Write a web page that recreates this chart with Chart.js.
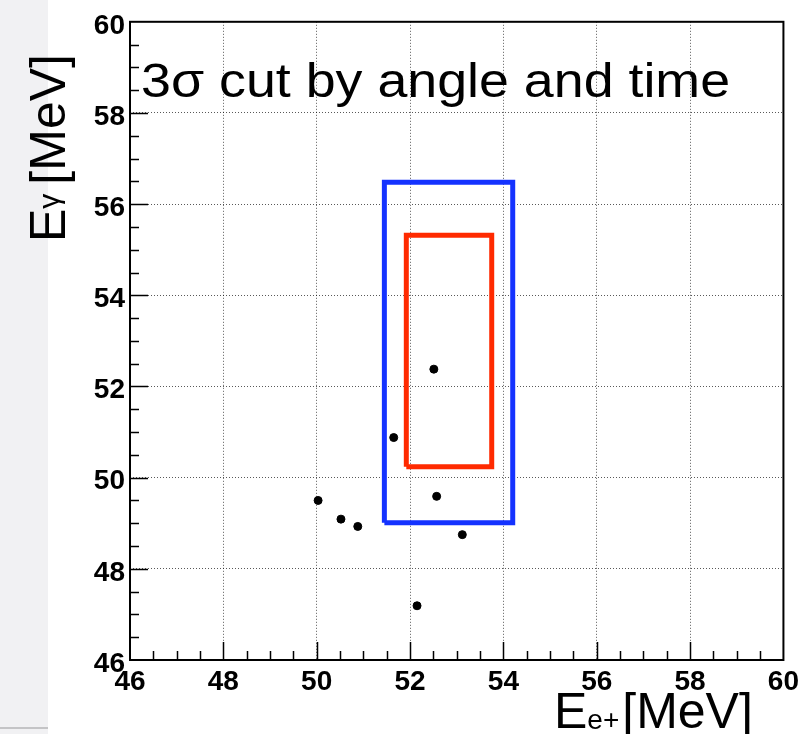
<!DOCTYPE html>
<html>
<head>
<meta charset="utf-8">
<script src="https://cdn.jsdelivr.net/npm/chart.js@4.4.1/dist/chart.umd.min.js"></script>
<style>
  html, body { margin: 0; padding: 0; background: #fff; }
  #wrap { position: relative; width: 804px; height: 734px; }
</style>
</head>
<body>
<div id="wrap"><canvas id="cutChart"></canvas></div>
<script>
// candidate events (E_e+ , E_gamma) in MeV
const eePos   = [52.51, 51.65, 52.57, 50.03, 50.52, 50.88, 53.12, 52.15];
const eGamma  = [52.38, 50.88, 49.59, 49.50, 49.09, 48.93, 48.75, 47.19];

// signal boxes [min, max]
const blueBoxX = [51.45, 54.20];
const blueBoxY = [49.01, 56.48];
const redBoxX  = [51.92, 53.75];
const redBoxY  = [50.24, 55.32];

// axis range and ticks
const axisMin = 46;
const axisMax = 60;
const majorStep = 2;
const minorStep = 0.5;

const titleText = '3σ cut by angle and time';

function boxPath(bx, by) {
  return [
    {x: bx[0], y: by[0]}, {x: bx[1], y: by[0]},
    {x: bx[1], y: by[1]}, {x: bx[0], y: by[1]},
    {x: bx[0], y: by[0]}
  ];
}

const points = eePos.map((x, i) => ({x: x, y: eGamma[i]}));

// light slide strip at the left edge
const backdrop = {
  id: 'backdrop',
  beforeDraw(chart) {
    const ctx = chart.ctx;
    ctx.save();
    ctx.fillStyle = '#f1f1f3';
    ctx.fillRect(0, 0, 48, chart.height);
    ctx.fillStyle = '#c4c4c6';
    ctx.fillRect(0, 727, 48, 2);
    ctx.restore();
  }
};

// ROOT style frame with inward tick marks + axis titles
const frameAndTitles = {
  id: 'frameAndTitles',
  afterDraw(chart) {
    const ctx = chart.ctx;
    const area = chart.chartArea;
    const xs = chart.scales.x;
    const ys = chart.scales.y;
    ctx.save();
    ctx.strokeStyle = '#000';
    ctx.lineWidth = 2;
    ctx.strokeRect(area.left, area.top, area.right - area.left, area.bottom - area.top);

    ctx.lineWidth = 1.5;
    ctx.beginPath();
    for (let v = axisMin + minorStep; v < axisMax; v += minorStep) {
      const len = (Math.abs(v % majorStep) < 1e-6) ? 18 : 9;
      const px = Math.round(xs.getPixelForValue(v)) + 0.5;
      ctx.moveTo(px, area.bottom);
      ctx.lineTo(px, area.bottom - len);
      const py = Math.round(ys.getPixelForValue(v)) + 0.5;
      ctx.moveTo(area.left, py);
      ctx.lineTo(area.left + len, py);
    }
    ctx.stroke();

    ctx.fillStyle = '#000';
    ctx.textBaseline = 'alphabetic';
    ctx.textAlign = 'left';

    // plot title (slightly wide, like the slide)
    ctx.save();
    ctx.translate(141, 97);
    ctx.scale(1.12, 1);
    ctx.font = '48px "Liberation Sans", Arial, sans-serif';
    ctx.fillText(titleText, 0, 0);
    ctx.restore();

    // x axis title  E_e+ [MeV]
    let x = 554;
    ctx.font = '50px "Liberation Sans", Arial, sans-serif';
    ctx.fillText('E', x, 728);
    x += ctx.measureText('E').width;
    ctx.font = '28px "Liberation Sans", Arial, sans-serif';
    ctx.fillText('e+', x, 729);
    x += ctx.measureText('e+').width + 3;
    ctx.font = '50px "Liberation Sans", Arial, sans-serif';
    ctx.fillText('[MeV]', x, 728);

    // y axis title  E_gamma [MeV], rotated
    ctx.translate(65, 242);
    ctx.rotate(-Math.PI / 2);
    let t = 0;
    ctx.font = '50px "Liberation Sans", Arial, sans-serif';
    ctx.fillText('E', t, 0);
    t += ctx.measureText('E').width;
    ctx.font = '30px "Liberation Sans", Arial, sans-serif';
    ctx.fillText('γ', t, -6);
    t += ctx.measureText('γ').width + 9;
    ctx.font = '50px "Liberation Sans", Arial, sans-serif';
    ctx.fillText('[MeV]', t, 0);
    ctx.restore();
  }
};

const tickFont = { family: '"Liberation Sans", Arial, sans-serif', size: 28, weight: 'bold' };

function axisOpts(isX) {
  return {
    type: 'linear',
    min: axisMin,
    max: axisMax,
    ticks: {
      stepSize: majorStep,
      color: '#000',
      font: tickFont,
      padding: isX ? 5 : 5,
      labelOffset: isX ? 0 : 4,
      maxRotation: 0,
      autoSkip: false
    },
    grid: {
      color: 'rgba(0,0,0,0.65)',
      lineWidth: 1,
      drawTicks: false
    },
    border: {
      display: false,
      dash: [1, 2]
    },
    afterFit: function(scale) {
      if (isX) scale.height = 74;
      else scale.width = 130;
    }
  };
}

new Chart(document.getElementById('cutChart'), {
  type: 'scatter',
  data: {
    datasets: [
      {
        label: 'events',
        data: points,
        backgroundColor: '#000',
        borderColor: '#000',
        pointRadius: 4,
        pointHoverRadius: 4
      },
      {
        label: 'blue box',
        data: boxPath(blueBoxX, blueBoxY),
        showLine: true,
        borderColor: '#1432ff',
        borderWidth: 5,
        borderJoinStyle: 'miter',
        pointRadius: 0,
        fill: false
      },
      {
        label: 'red box',
        data: boxPath(redBoxX, redBoxY),
        showLine: true,
        borderColor: '#ff2a00',
        borderWidth: 5,
        borderJoinStyle: 'miter',
        pointRadius: 0,
        fill: false
      }
    ]
  },
  options: {
    responsive: true,
    maintainAspectRatio: false,
    animation: false,
    layout: { padding: { top: 20, right: 20, left: 0, bottom: 0 } },
    plugins: {
      legend: { display: false },
      tooltip: { enabled: false }
    },
    scales: {
      x: axisOpts(true),
      y: axisOpts(false)
    }
  },
  plugins: [backdrop, frameAndTitles]
});
</script>
</body>
</html>
